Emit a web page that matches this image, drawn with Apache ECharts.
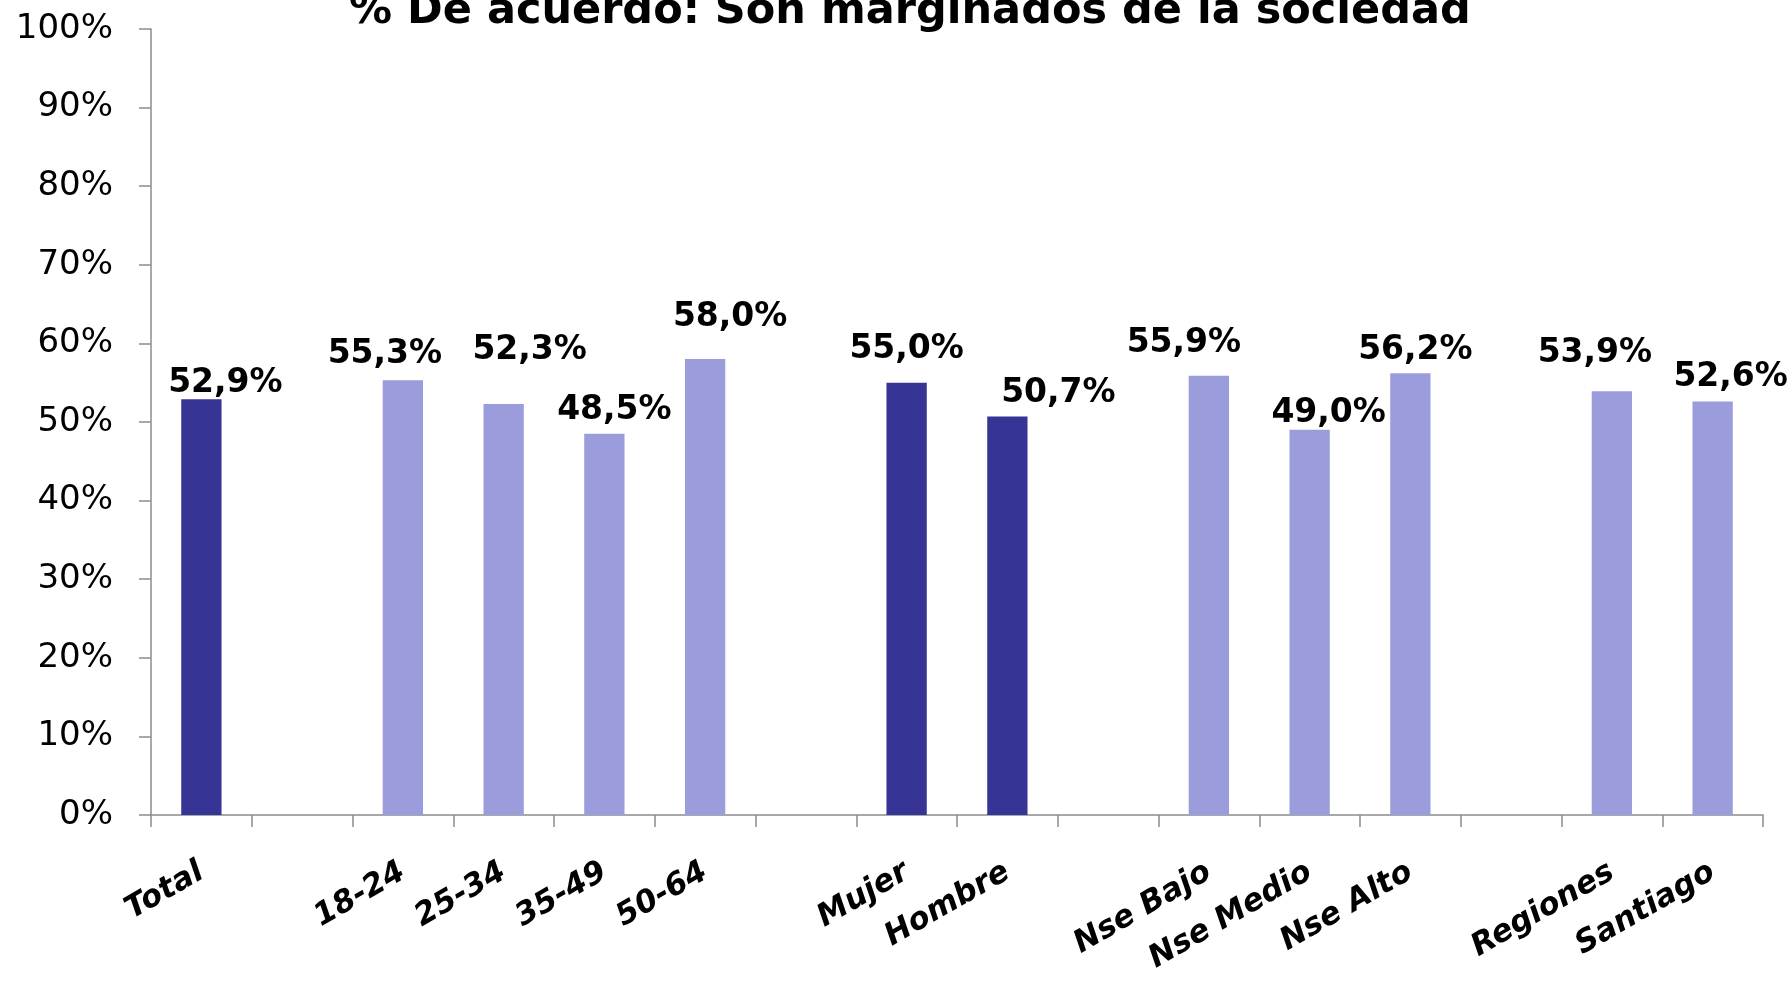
<!DOCTYPE html>
<html>
<head>
<meta charset="utf-8">
<style>
  html, body { margin: 0; padding: 0; background: #fff; }
  #main { width: 1792px; height: 984px; }
</style>
<script src="https://cdn.jsdelivr.net/npm/echarts@6/dist/echarts.min.js"></script>
</head>
<body>
<div id="main"></div>
<script>
// categorias (las vacias separan los grupos)
var categories = ['Total', '', '18-24', '25-34', '35-49', '50-64', '', 'Mujer', 'Hombre', '',
  'Nse Bajo', 'Nse Medio', 'Nse Alto', '', 'Regiones', 'Santiago'];
var values = [52.9, null, 55.3, 52.3, 48.5, 58.0, null, 55.0, 50.7, null,
  55.9, 49.0, 56.2, null, 53.9, 52.6];
var yTicks = [0, 10, 20, 30, 40, 50, 60, 70, 80, 90, 100];

// estilo
var darkCats = ['Total', 'Mujer', 'Hombre'];
var DARK = '#363596', LIGHT = '#9a9cdc';
// ajuste manual de etiquetas (como en el grafico original)
var labelNudge = [[24, 1], 0, [-18, -9], [26, -37], [10, -7], [25, -25], 0, [0, -17], [51, -7], 0,
  [-25, -16], [19, 0], [5, -6], 0, [-17, -21], [18, -8]];

var myChart = echarts.init(document.getElementById('main'));

var seriesData = values.map(function (v, i) {
  if (v === null) return '-';
  var d = { value: v };
  if (labelNudge[i]) d.label = { offset: labelNudge[i] };
  return d;
});

myChart.setOption({
  animation: false,
  title: {
    text: '% De acuerdo: Son marginados de la sociedad',
    left: 349,
    top: -10,
    padding: 0,
    textStyle: {
      fontFamily: 'DejaVu Sans',
      fontWeight: 'bold',
      fontSize: 43,
      color: '#000'
    }
  },
  grid: { left: 151, right: 29, top: 29, bottom: 169 },
  xAxis: {
    type: 'category',
    data: categories,
    axisLine: { lineStyle: { color: '#8c8c8c', width: 1.5 } },
    axisTick: { show: true, length: 12, lineStyle: { color: '#8c8c8c', width: 1.5 } },
    axisLabel: {
      interval: 0,
      rotate: 30,
      margin: 55,
      fontFamily: 'DejaVu Sans',
      fontWeight: 'bold',
      fontStyle: 'italic',
      fontSize: 31,
      color: '#000'
    }
  },
  yAxis: {
    type: 'value',
    min: yTicks[0],
    max: yTicks[yTicks.length - 1],
    interval: 10,
    splitLine: { show: false },
    axisLine: { show: true, lineStyle: { color: '#8c8c8c', width: 1.5 } },
    axisTick: { show: true, length: 12, lineStyle: { color: '#8c8c8c', width: 1.5 } },
    axisLabel: {
      margin: 38,
      formatter: '{value}%',
      fontFamily: 'DejaVu Sans',
      fontSize: 34,
      color: '#000'
    }
  },
  series: [{
    type: 'bar',
    barWidth: '40%',
    data: seriesData,
    itemStyle: {
      color: function (p) {
        return darkCats.indexOf(categories[p.dataIndex]) >= 0 ? DARK : LIGHT;
      }
    },
    label: {
      show: true,
      position: 'top',
      distance: 0,
      fontFamily: 'DejaVu Sans',
      fontWeight: 'bold',
      fontSize: 33,
      color: '#000',
      formatter: function (p) {
        return p.value.toFixed(1).replace('.', ',') + '%';
      }
    }
  }]
});
</script>
</body>
</html>
